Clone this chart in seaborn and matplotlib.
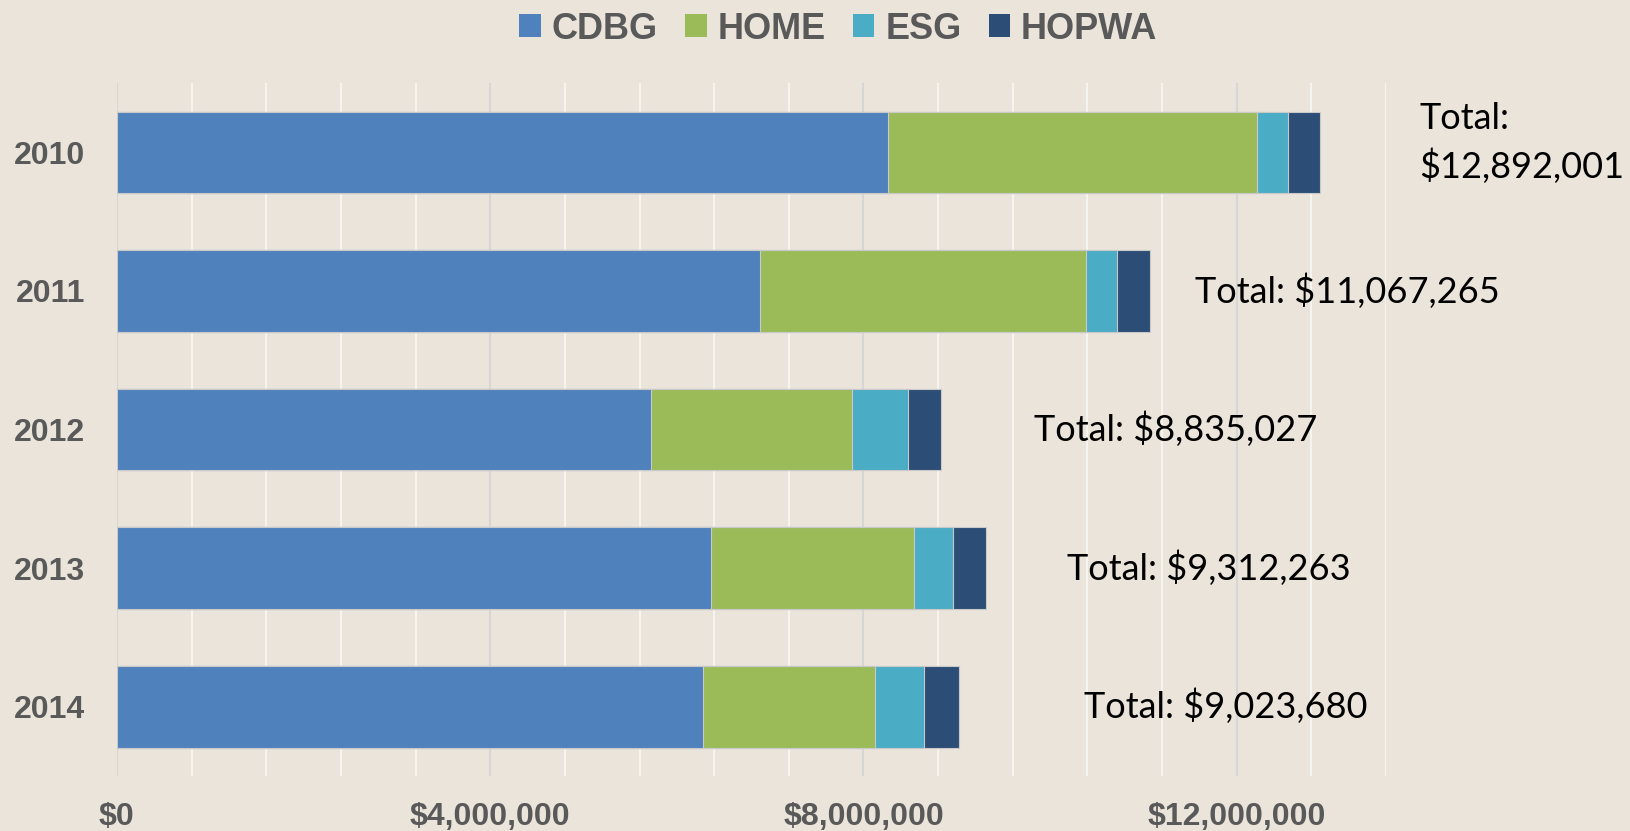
import matplotlib
matplotlib.use('Agg')
import matplotlib.pyplot as plt
from matplotlib.patches import Patch
from matplotlib.ticker import MultipleLocator, FuncFormatter
import seaborn as sns
import numpy as np
import pandas as pd

years = ['2010', '2011', '2012', '2013', '2014']
cdbg = [8259000, 6888000, 5727000, 6370000, 6277000]
home = [3960000, 3500000, 2150000, 2173000, 1852000]
esg = [333000, 334000, 602000, 415000, 518000]
hopwa = [340001, 345265, 356027, 354263, 376680]
totals = [12892001, 11067265, 8835027, 9312263, 9023680]
label_x = [13960000, 11550000, 9830000, 10180000, 10360000]
programs = ['CDBG', 'HOME', 'ESG', 'HOPWA']
colors = ['#4F81BD', '#9BBB59', '#4BACC6', '#2C4D75']


def run():
    bg = '#EAE4DB'
    sns.set_theme(style='white')
    plt.rcParams['font.family'] = ['Liberation Sans', 'DejaVu Sans']

    df = pd.DataFrame({'year': years, 'CDBG': cdbg, 'HOME': home, 'ESG': esg, 'HOPWA': hopwa})
    cum = df[programs].cumsum(axis=1)

    fig = plt.figure(figsize=(16.31, 8.31), dpi=100, facecolor=bg)
    ax = fig.add_axes([0.0717, 0.0662, 0.7781, 0.8338])
    ax.set_facecolor(bg)

    # draw longest first so shorter stacks sit on top
    for prog, col in reversed(list(zip(programs, colors))):
        sns.barplot(x=cum[prog], y=df['year'], orient='h', color=col, width=0.59,
                    edgecolor='#C9C9C9', linewidth=0.8, saturation=1, ax=ax, zorder=3)

    ax.set_xlim(0, 13600000)
    ax.set_ylim(4.5, -0.5)
    ax.xaxis.set_major_locator(MultipleLocator(4000000))
    ax.xaxis.set_minor_locator(MultipleLocator(800000))
    ax.xaxis.set_major_formatter(FuncFormatter(lambda v, p: '${:,.0f}'.format(v)))
    ax.grid(axis='x', which='minor', color='#F6F4F0', linewidth=1.5, zorder=0)
    ax.grid(axis='x', which='major', color='#D6D6D6', linewidth=1.5, zorder=0)
    ax.set_axisbelow(True)
    for s in ax.spines.values():
        s.set_visible(False)
    ax.set_xlabel('')
    ax.set_ylabel('')
    ax.tick_params(axis='x', which='both', length=0, pad=19, labelsize=23, labelcolor='#595959')
    ax.tick_params(axis='y', length=0, pad=23, labelsize=23, labelcolor='#595959')
    for t in ax.get_xticklabels() + ax.get_yticklabels():
        t.set_fontweight('bold')

    for i, (tot, lx) in enumerate(zip(totals, label_x)):
        txt = 'Total: ${:,}'.format(tot)
        dy = 0
        if i == 0:
            txt = 'Total:\n${:,}'.format(tot)
            dy = -0.07
        ax.text(lx, i + dy, txt, ha='left', va='center', fontsize=26, color='black',
                family=['Lato', 'DejaVu Sans'], clip_on=False, linespacing=1.45)

    handles = [Patch(facecolor=c, edgecolor='none') for c in colors]
    leg = fig.legend(handles, programs, loc='center', bbox_to_anchor=(0.514, 0.965), ncol=4,
                     frameon=False, handlelength=0.6, handleheight=0.6, handletextpad=0.3,
                     columnspacing=0.75, prop={'size': 26, 'weight': 'bold'})
    for t in leg.get_texts():
        t.set_color('#595959')

    fig.savefig('out.png', dpi=100, facecolor=bg)


if __name__ == '__main__':
    run()
